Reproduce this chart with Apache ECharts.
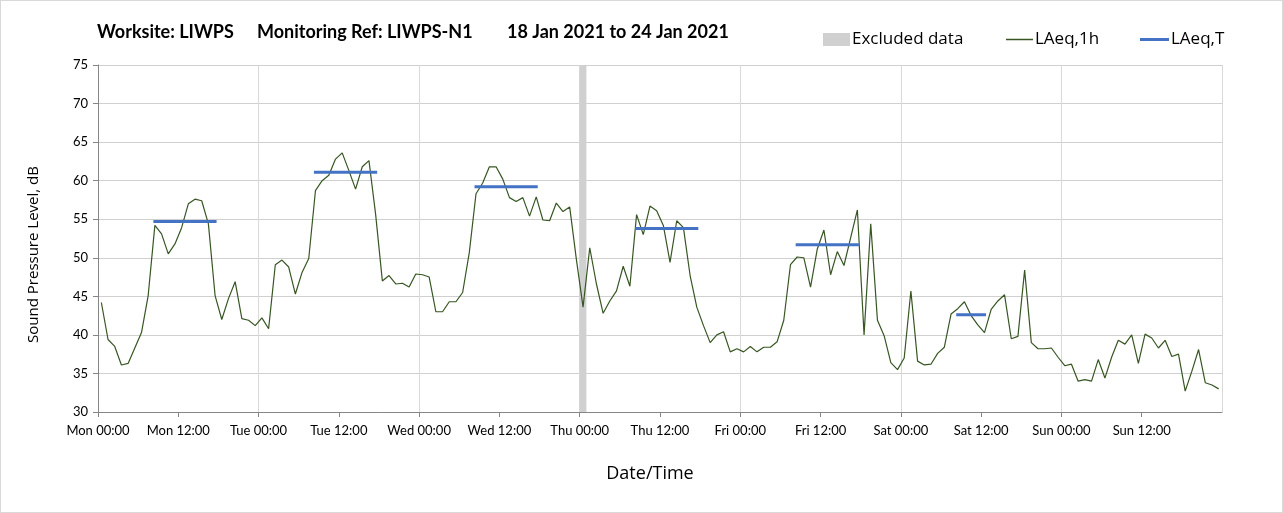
<!DOCTYPE html>
<html>
<head>
<meta charset="UTF-8">
<title></title>
<style>
  html, body { margin: 0; padding: 0; background: #fff; }
  #main { width: 1281px; height: 511px; border: 1px solid #d9d9d9; }
</style>
</head>
<body>
<div id="main"></div>
<script src="https://cdn.jsdelivr.net/npm/echarts@6/dist/echarts.min.js"></script>
<script>
// hourly LAeq,1h values, Mon 00:00 .. Sun 23:00
var laeq1h = [
  44.2, 39.4, 38.5, 36.1, 36.3, 38.3, 40.3, 45.1, 54.2, 53.1, 50.5, 51.8, 53.9, 57.0, 57.6, 57.4, 54.4, 45.1, 42.0, 44.7, 46.9, 42.1, 41.9, 41.2,
  42.2, 40.8, 49.1, 49.7, 48.8, 45.3, 48.1, 49.9, 58.7, 60.0, 60.7, 62.8, 63.6, 61.3, 58.9, 61.8, 62.6, 55.6, 47.0, 47.7, 46.6, 46.7, 46.2, 47.9,
  47.8, 47.5, 43.0, 43.0, 44.3, 44.3, 45.5, 50.7, 58.3, 59.7, 61.8, 61.8, 60.2, 57.8, 57.3, 57.8, 55.4, 57.9, 54.9, 54.8, 57.1, 56.0, 56.6, 49.8,
  43.6, 51.3, 46.6, 42.8, 44.4, 45.7, 48.9, 46.3, 55.6, 53.0, 56.7, 56.1, 54.2, 49.4, 54.8, 53.9, 47.7, 43.6, 41.2, 39.0, 40.0, 40.4, 37.8, 38.2,
  37.8, 38.5, 37.8, 38.4, 38.4, 39.1, 41.9, 49.1, 50.1, 50.0, 46.2, 51.1, 53.6, 47.8, 50.8, 49.0, 52.6, 56.2, 40.0, 54.4, 41.9, 39.9, 36.4, 35.5,
  37.0, 45.7, 36.6, 36.1, 36.2, 37.6, 38.4, 42.7, 43.4, 44.3, 42.5, 41.3, 40.3, 43.3, 44.4, 45.2, 39.5, 39.8, 48.4, 39.0, 38.2, 38.2, 38.3, 37.1,
  36.0, 36.2, 34.0, 34.2, 34.0, 36.8, 34.4, 37.1, 39.3, 38.8, 40.0, 36.3, 40.1, 39.6, 38.3, 39.3, 37.2, 37.5, 32.7, 35.3, 38.1, 33.8, 33.5, 33.0
];

// LAeq,T periods: first hour index, last hour index, level
var periodStart = [8, 32, 56, 80, 104, 128];
var periodEnd = [17, 41, 65, 89, 113, 132];
var periodLevel = [54.7, 61.1, 59.2, 53.8, 51.7, 42.6];

// excluded data window (hours from Mon 00:00)
var excluded = [[72, 73]];

var dayNames = ['Mon', 'Tue', 'Wed', 'Thu', 'Fri', 'Sat', 'Sun', 'Mon'];

var font = 'Lato, "Open Sans", sans-serif';
var font2 = '"Open Sans", Lato, sans-serif';

var hourly = laeq1h.map(function (v, i) { return [i + 0.5, v]; });

var series = [
  {
    name: 'Excluded data',
    type: 'line',
    data: [],
    itemStyle: { color: '#d0d0d0' },
    markArea: {
      silent: true,
      itemStyle: { color: '#d0d0d0' },
      data: excluded.map(function (e) { return [{ xAxis: e[0] }, { xAxis: e[1] }]; })
    }
  },
  {
    name: 'LAeq,1h',
    type: 'line',
    data: hourly,
    symbol: 'none',
    itemStyle: { color: '#375623' },
    lineStyle: { color: '#375623', width: 1.2 },
    z: 3
  }
];

periodStart.forEach(function (s, k) {
  series.push({
    name: 'LAeq,T',
    type: 'line',
    symbol: 'none',
    itemStyle: { color: '#4472c4' },
    lineStyle: { color: '#4472c4', width: 3, cap: 'square' },
    data: [[s + 0.5, periodLevel[k]], [periodEnd[k] + 0.5, periodLevel[k]]],
    z: 4
  });
});

var titleStyle = { fontFamily: font, fontSize: 18, fontWeight: 'bold', color: '#000' };
var legendText = { fontFamily: font2, fontSize: 17, color: '#000', padding: [0, 0, 0, -3] };

var chart = echarts.init(document.getElementById('main'));
chart.setOption({
  animation: false,
  title: [
    { text: 'Worksite: LIWPS', left: 91, top: 17, textStyle: titleStyle },
    { text: 'Monitoring Ref: LIWPS-N1', left: 251, top: 17, textStyle: titleStyle },
    { text: '18 Jan 2021 to 24 Jan 2021', left: 501, top: 17, textStyle: titleStyle }
  ],
  legend: [
    { data: [{ name: 'Excluded data', icon: 'rect' }], left: 817, top: 25, itemWidth: 27, itemHeight: 13, textStyle: legendText },
    { data: [{ name: 'LAeq,1h', icon: 'rect', itemStyle: { color: '#375623' } }], left: 1000, top: 25, itemWidth: 27, itemHeight: 1.5, textStyle: legendText },
    { data: [{ name: 'LAeq,T', icon: 'rect', itemStyle: { color: '#4472c4' } }], left: 1134, top: 25, itemWidth: 29, itemHeight: 3, textStyle: legendText }
  ],
  grid: { left: 97, right: 60, top: 64, bottom: 100, containLabel: false },
  xAxis: [
    {
      type: 'value', min: 0, max: 168, interval: 12,
      name: 'Date/Time', nameLocation: 'middle', nameGap: 53,
      nameTextStyle: { fontFamily: font2, fontSize: 18, color: '#000', padding: [0, 20, 0, 0] },
      axisLine: { lineStyle: { color: '#868686' } },
      axisTick: { lineStyle: { color: '#868686' }, length: 5 },
      splitLine: { show: false },
      axisLabel: {
        fontFamily: font, fontSize: 13, color: '#000', margin: 12, showMaxLabel: false,
        formatter: function (v) { return dayNames[Math.floor(v / 24)] + ' ' + (v % 24 === 0 ? '00:00' : '12:00'); }
      }
    },
    {
      type: 'value', min: 0, max: 168, interval: 24, position: 'bottom',
      axisLine: { show: false }, axisTick: { show: false }, axisLabel: { show: false },
      splitLine: { show: true, lineStyle: { color: '#d9d9d9' } }
    }
  ],
  yAxis: {
    type: 'value', min: 30, max: 75, interval: 5,
    name: 'Sound Pressure Level, dB', nameLocation: 'middle', nameGap: 57,
    nameTextStyle: { fontFamily: font2, fontSize: 15, color: '#000', padding: [0, 32, 0, 0] },
    axisLine: { show: true, lineStyle: { color: '#868686' } },
    axisTick: { show: true, lineStyle: { color: '#868686' }, length: 5 },
    axisLabel: { fontFamily: font, fontSize: 13, color: '#000', margin: 10 },
    splitLine: { lineStyle: { color: '#d0d0d0' } }
  },
  series: series
});
</script>
</body>
</html>
